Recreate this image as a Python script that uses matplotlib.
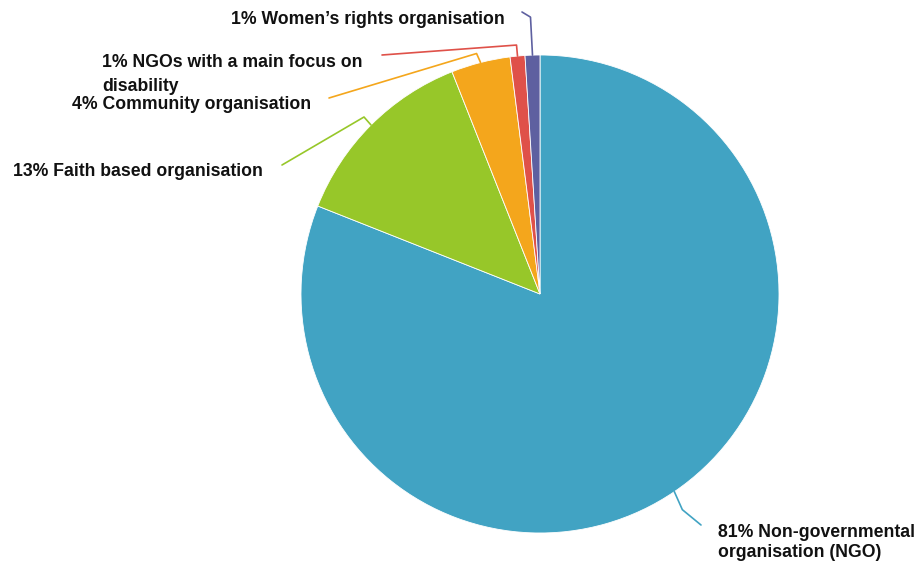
import matplotlib.pyplot as plt
import numpy as np

plt.rcParams['font.family'] = ['Liberation Sans', 'DejaVu Sans']

# data (clockwise from 12 o'clock)
labels = ['Non-governmental\norganisation (NGO)', 'Faith based organisation',
          'Community organisation', 'NGOs with a main focus on\ndisability',
          "Women\u2019s rights organisation"]
shares = [81, 13, 4, 1, 1]
colors = ['#41a3c3', '#97c729', '#f4a61c', '#df5149', '#5e60a0']

W, H = 919, 567
fig = plt.figure(figsize=(W / 100, H / 100), dpi=100)
ax = fig.add_axes([0, 0, 1, 1])

cx, cy, r = 540, H - 294, 239
wedges, _ = ax.pie(shares, colors=colors, startangle=90, counterclock=False,
                   center=(cx, cy), radius=r,
                   wedgeprops=dict(edgecolor='white', linewidth=0.6))
ax.set_xlim(0, W)
ax.set_ylim(0, H)
ax.set_aspect('equal')
ax.axis('off')

# leader lines: elbow offset from the wedge edge (px), end of line,
# text anchor (centre of text block), line spacing
leaders = [
    dict(elbow=(8, -18), end=(701, 525), text=(718, 542.5), ha='left', ls=1.2),
    dict(elbow=(-7, 8), end=(282, 165), text=(263, 172), ha='right', ls=1.2),
    dict(elbow=(-4, 9), end=(329, 98), text=(311, 104.5), ha='right', ls=1.2),
    dict(elbow=(-1, 11), end=(382, 55), text=(102, 74.5), ha='left', ls=1.56),
    dict(elbow=(-2, 38), end=(522, 12), text=(505, 20), ha='right', ls=1.2),
]

for w, lab, pct, col, ld in zip(wedges, labels, shares, colors, leaders):
    mid = np.deg2rad((w.theta1 + w.theta2) / 2)
    ex, ey = cx + r * np.cos(mid), cy + r * np.sin(mid)
    bx, by = ex + ld['elbow'][0], ey + ld['elbow'][1]
    tx, ty = ld['end'][0], H - ld['end'][1]
    ax.plot([ex, bx, tx], [ey, by, ty], color=col, lw=1.2,
            solid_joinstyle='round', solid_capstyle='round')
    ax.text(ld['text'][0], H - ld['text'][1], f'{pct}% {lab}',
            ha=ld['ha'], va='center', fontsize=12.7, fontweight='bold',
            color='#111111', linespacing=ld['ls'])

fig.savefig('out.png', dpi=100)
